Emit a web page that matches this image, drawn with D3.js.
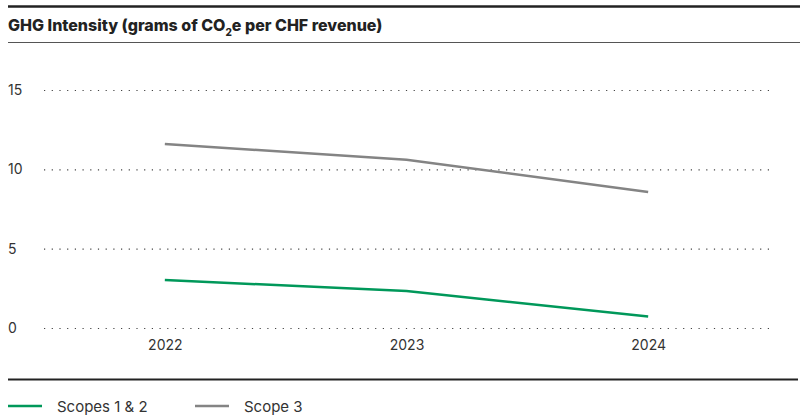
<!DOCTYPE html>
<html>
<head>
<meta charset="utf-8">
<script src="https://cdn.jsdelivr.net/npm/d3@7"></script>
<style>
  body { margin: 0; background: #fff; }
  text { font-family: Inter, "Noto Sans", sans-serif; }
</style>
</head>
<body>
<div id="chart"></div>
<script>
const years = ['2022', '2023', '2024'];
const scopes12 = [3.02, 2.33, 0.72];
const scope3 = [11.6, 10.6, 8.57];
const yTicks = [0, 5, 10, 15];
const seriesNames = ['Scopes 1 & 2', 'Scope 3'];
const seriesColors = ['#00985a', '#848484'];

const width = 800;
const height = 416;

const svg = d3.select('#chart')
    .append('svg')
    .attr('width', width)
    .attr('height', height);

// frame lines + title
svg.append('line')
    .attr('x1', 8).attr('x2', 800).attr('y1', 6.5).attr('y2', 6.5)
    .attr('stroke', '#222').attr('stroke-width', 2.5);

const title = svg.append('text')
    .attr('x', 8).attr('y', 31)
    .attr('font-size', 16).attr('font-weight', 800)
    .attr('fill', '#222');
title.append('tspan').text('GHG Intensity (grams of CO');
title.append('tspan').text('2').attr('font-size', 10).attr('dy', 5);
title.append('tspan').text('e per CHF revenue)').attr('dy', -5);

svg.append('line')
    .attr('x1', 8).attr('x2', 800).attr('y1', 42.5).attr('y2', 42.5)
    .attr('stroke', '#555').attr('stroke-width', 1.2);

// plot
const plot = { left: 44, right: 769, top: 90, bottom: 328 };

const x = d3.scalePoint()
    .domain(years)
    .range([plot.left, plot.right])
    .padding(0.5);

const y = d3.scaleLinear()
    .domain([0, 15])
    .range([plot.bottom, plot.top]);

// grid
const grid = svg.append('g').classed('grid', true);
grid.selectAll('line')
    .data(yTicks)
    .enter()
    .append('line')
    .attr('x1', plot.left).attr('x2', plot.right)
    .attr('y1', d => y(d) + 0.5).attr('y2', d => y(d) + 0.5)
    .attr('stroke', '#444')
    .attr('stroke-width', 1.2)
    .attr('stroke-dasharray', '1.2,6.5');

// y labels
svg.append('g')
    .selectAll('text')
    .data(yTicks)
    .enter()
    .append('text')
    .attr('x', 8)
    .attr('y', d => y(d) + 5)
    .attr('font-size', 14)
    .attr('fill', '#333')
    .text(d => d);

// x axis
const xAxis = d3.axisBottom(x).tickSize(0).tickPadding(12);
const xAxisGroup = svg.append('g')
    .attr('transform', `translate(0,${plot.bottom})`)
    .call(xAxis);
xAxisGroup.select('.domain').remove();
xAxisGroup.selectAll('text')
    .attr('font-size', 14)
    .attr('font-family', 'Inter, "Noto Sans", sans-serif')
    .attr('fill', '#333');

// lines
const line = d3.line()
    .x((d, i) => x(years[i]))
    .y(d => y(d));

[scopes12, scope3].forEach((s, i) => {
    svg.append('path')
        .datum(s)
        .attr('d', line)
        .attr('fill', 'none')
        .attr('stroke', seriesColors[i])
        .attr('stroke-width', 2.5);
});

// bottom rule
svg.append('line')
    .attr('x1', 8).attr('x2', 798).attr('y1', 379.5).attr('y2', 379.5)
    .attr('stroke', '#222').attr('stroke-width', 1.8);

// legend
const legendX = [8, 195];
seriesNames.forEach((name, i) => {
    const g = svg.append('g').attr('transform', `translate(${legendX[i]},406)`);
    g.append('line')
        .attr('x1', 0).attr('x2', 34)
        .attr('stroke', seriesColors[i])
        .attr('stroke-width', 2.5);
    g.append('text')
        .attr('x', 49).attr('y', 6)
        .attr('font-size', 15)
        .attr('fill', '#333')
        .text(name);
});
</script>
</body>
</html>
